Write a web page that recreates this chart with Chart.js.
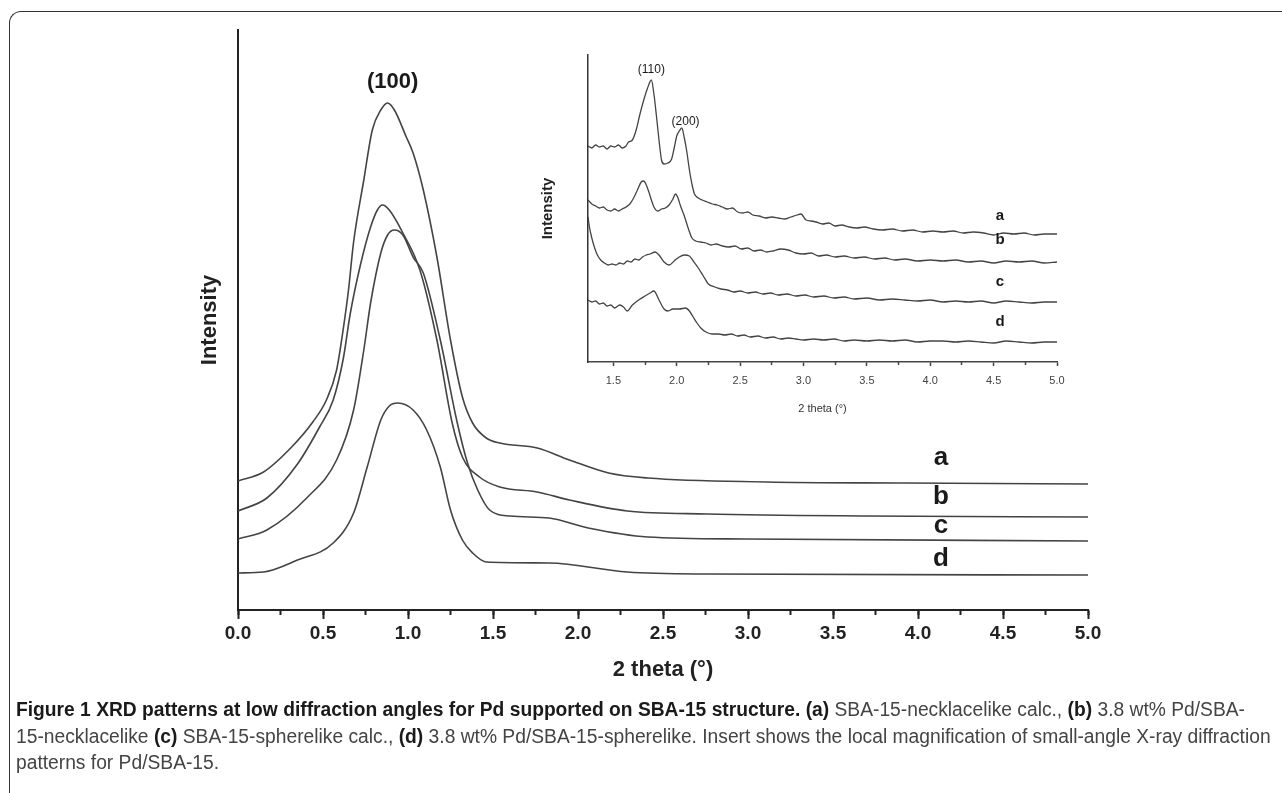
<!DOCTYPE html>
<html>
<head>
<meta charset="utf-8">
<script src="https://cdn.jsdelivr.net/npm/chart.js@4.4.1/dist/chart.umd.min.js"></script>
<style>
  body { margin: 0; background: #fff; width: 1282px; height: 793px; overflow: hidden; position: relative; }
  .frame { position: absolute; left: 9px; top: 11px; width: 1320px; height: 820px;
           border-left: 1.5px solid #333; border-top: 1.5px solid #333; border-top-left-radius: 12px; }
  canvas { position: absolute; left: 0; top: 0; }
  .cap { position: absolute; left: 16px; top: 696px; font-family: "Liberation Sans", Arial, sans-serif;
         font-size: 20px; line-height: 26.5px; color: #444; white-space: nowrap; }
  .cap > div { width: max-content; transform-origin: 0 0; }
  .cap b { color: #1a1a1a; }
</style>
</head>
<body>
<div class="frame"></div>
<canvas id="main" width="1282" height="700"></canvas>
<canvas id="inset" width="1282" height="700"></canvas>
<div class="cap">
  <div><b>Figure 1 XRD patterns at low diffraction angles for Pd supported on SBA-15 structure.</b> <b>(a)</b> SBA-15-necklacelike calc., <b>(b)</b> 3.8 wt% Pd/SBA-</div>
  <div>15-necklacelike <b>(c)</b> SBA-15-spherelike calc., <b>(d)</b> 3.8 wt% Pd/SBA-15-spherelike. Insert shows the local magnification of small-angle X-ray diffraction</div>
  <div>patterns for Pd/SBA-15.</div>
</div>
<script>
// low angle patterns, 2 theta 0 - 5
const aX = [0, 0.15, 0.31, 0.44, 0.52, 0.58, 0.62, 0.65, 0.68, 0.74, 0.79, 0.84, 0.88, 0.92, 0.99, 1.03, 1.09, 1.17, 1.25, 1.32, 1.38, 1.46, 1.54, 1.76, 1.95, 2.18, 2.41, 3.11, 3.92, 5.0]
const aY = [129, 138, 162, 188, 210, 240, 282, 320, 368, 430, 480, 500, 507, 500, 473, 457, 420, 353, 270, 213, 187, 172, 167, 162, 150, 137, 132, 128, 127, 126]
const bX = [0, 0.17, 0.35, 0.48, 0.56, 0.62, 0.66, 0.72, 0.78, 0.82, 0.85, 0.89, 0.97, 1.07, 1.17, 1.26, 1.32, 1.42, 1.54, 1.76, 1.95, 2.29, 2.76, 3.69, 5.0]
const bY = [99, 112, 146, 183, 210, 252, 296, 345, 383, 400, 405, 400, 377, 340, 270, 187, 153, 133, 123, 118, 110, 99, 96, 94, 93]
const cX = [0, 0.17, 0.41, 0.58, 0.68, 0.74, 0.78, 0.84, 0.88, 0.92, 0.97, 1.03, 1.09, 1.19, 1.29, 1.35, 1.41, 1.48, 1.60, 1.83, 2.06, 2.41, 2.99, 5.0]
const cY = [71, 80, 113, 150, 200, 260, 307, 357, 375, 380, 375, 353, 337, 270, 187, 147, 120, 100, 94, 92, 82, 73, 71, 69]
const dX = [0, 0.15, 0.35, 0.56, 0.68, 0.76, 0.84, 0.89, 0.94, 1.03, 1.11, 1.19, 1.25, 1.32, 1.38, 1.46, 1.83, 2.29, 2.76, 5.0]
const dY = [37, 38, 50, 67, 97, 143, 190, 204, 207, 200, 180, 143, 100, 70, 57, 48, 47, 38, 36, 35]

// insert: (110) and (200) region, 2 theta 1.3 - 5
const iaX = [1.30, 1.33, 1.36, 1.39, 1.42, 1.45, 1.48, 1.51, 1.54, 1.57, 1.60, 1.62, 1.65, 1.68, 1.71, 1.74, 1.77, 1.80, 1.82, 1.84, 1.86, 1.88, 1.90, 1.93, 1.96, 1.98, 2.00, 2.02, 2.04, 2.06, 2.08, 2.10, 2.12, 2.14, 2.17, 2.20, 2.24, 2.28, 2.32, 2.36, 2.40, 2.44, 2.48, 2.52, 2.56, 2.60, 2.65, 2.70, 2.75, 2.80, 2.85, 2.90, 2.95, 2.98, 3.02, 3.06, 3.10, 3.15, 3.20, 3.25, 3.30, 3.36, 3.42, 3.48, 3.55, 3.62, 3.70, 3.78, 3.86, 3.94, 4.02, 4.10, 4.18, 4.26, 4.34, 4.42, 4.50, 4.58, 4.66, 4.74, 4.82, 4.90, 5.00]
const iaY = [216, 214, 217, 215, 216, 213, 216, 215, 217, 214, 216, 220, 222, 232, 248, 262, 274, 282, 268, 246, 222, 202, 198, 199, 203, 214, 226, 231, 234, 224, 210, 192, 178, 168, 164, 162, 160, 158, 157, 155, 153, 154, 150, 149, 150, 147, 146, 144, 145, 144, 143, 145, 147, 148, 142, 141, 140, 138, 139, 136, 137, 135, 134, 135, 133, 132, 133, 131, 132, 130, 131, 130, 131, 129, 130, 129, 127, 129, 128, 129, 127, 128, 128]
const ibX = [1.30, 1.33, 1.36, 1.39, 1.42, 1.45, 1.48, 1.51, 1.54, 1.57, 1.60, 1.63, 1.66, 1.69, 1.72, 1.74, 1.76, 1.78, 1.80, 1.82, 1.85, 1.88, 1.91, 1.94, 1.97, 1.99, 2.01, 2.03, 2.06, 2.09, 2.12, 2.15, 2.19, 2.23, 2.27, 2.31, 2.36, 2.41, 2.46, 2.51, 2.56, 2.61, 2.66, 2.71, 2.76, 2.82, 2.88, 2.94, 3.00, 3.06, 3.12, 3.18, 3.25, 3.32, 3.40, 3.48, 3.56, 3.64, 3.72, 3.80, 3.90, 4.00, 4.10, 4.20, 4.30, 4.40, 4.50, 4.60, 4.70, 4.80, 4.90, 5.00]
const ibY = [162, 158, 156, 154, 155, 152, 151, 153, 151, 153, 155, 158, 164, 172, 180, 181, 177, 170, 162, 155, 151, 153, 154, 157, 163, 168, 164, 156, 146, 134, 124, 121, 120, 119, 117, 118, 116, 115, 116, 113, 114, 111, 112, 110, 111, 113, 112, 109, 108, 109, 106, 107, 105, 106, 104, 105, 103, 104, 102, 103, 101, 102, 101, 102, 100, 101, 99, 101, 100, 101, 99, 100]
const icX = [1.30, 1.31, 1.33, 1.35, 1.37, 1.40, 1.43, 1.46, 1.49, 1.52, 1.55, 1.58, 1.61, 1.64, 1.67, 1.70, 1.73, 1.76, 1.79, 1.83, 1.86, 1.90, 1.94, 1.98, 2.02, 2.06, 2.10, 2.13, 2.17, 2.21, 2.25, 2.30, 2.35, 2.40, 2.45, 2.50, 2.56, 2.62, 2.68, 2.74, 2.80, 2.87, 2.94, 3.01, 3.08, 3.16, 3.24, 3.32, 3.40, 3.50, 3.60, 3.70, 3.80, 3.90, 4.00, 4.10, 4.20, 4.30, 4.40, 4.50, 4.60, 4.70, 4.80, 4.90, 5.00]
const icY = [145, 136, 124, 115, 108, 102, 99, 97, 98, 97, 99, 98, 101, 100, 103, 102, 105, 107, 108, 110, 107, 100, 97, 101, 105, 107, 106, 101, 94, 86, 78, 75, 73, 72, 70, 71, 69, 70, 68, 69, 67, 68, 66, 67, 65, 66, 64, 65, 63, 64, 62, 63, 62, 61, 62, 60, 61, 60, 61, 59, 61, 60, 59, 60, 60]
const idX = [1.30, 1.33, 1.36, 1.39, 1.42, 1.45, 1.48, 1.51, 1.55, 1.58, 1.61, 1.65, 1.70, 1.75, 1.79, 1.82, 1.86, 1.90, 1.93, 1.97, 2.02, 2.07, 2.10, 2.13, 2.16, 2.19, 2.23, 2.28, 2.33, 2.38, 2.43, 2.48, 2.53, 2.58, 2.64, 2.70, 2.76, 2.82, 2.88, 2.94, 3.00, 3.08, 3.16, 3.24, 3.32, 3.40, 3.50, 3.60, 3.70, 3.80, 3.90, 4.00, 4.10, 4.20, 4.30, 4.40, 4.50, 4.60, 4.70, 4.80, 4.90, 5.00]
const idY = [62, 60, 61, 58, 59, 56, 57, 54, 57, 55, 51, 57, 62, 66, 69, 71, 62, 53, 51, 53, 53, 54, 51, 45, 39, 34, 30, 28, 28, 27, 28, 26, 27, 25, 26, 24, 25, 23, 24, 23, 22, 23, 22, 23, 21, 22, 21, 22, 21, 22, 20, 21, 21, 20, 21, 20, 19, 21, 20, 19, 20, 20]

const mainTicks = [0, 0.5, 1, 1.5, 2, 2.5, 3, 3.5, 4, 4.5, 5]
const insetTicks = [1.5, 2, 2.5, 3, 3.5, 4, 4.5, 5]

// width of the first caption line in px; the other lines use the same squeeze
const capWidth = 1229

const pts = (xs, ys) => xs.map((x, i) => ({ x: x, y: ys[i] }))
const FONT = '"Liberation Sans", Arial, sans-serif'

// text tags placed in data coordinates
const tags = {
  id: 'tags',
  afterDatasetsDraw(chart, args, opts) {
    const ctx = chart.ctx
    const x = chart.scales.x, y = chart.scales.y
    ctx.save()
    ctx.fillStyle = '#1a1a1a'
    ctx.textAlign = 'center'
    ctx.textBaseline = 'middle'
    opts.items.forEach(t => {
      ctx.font = t.font
      ctx.fillText(t.text, x.getPixelForValue(t.x), y.getPixelForValue(t.y))
    })
    ctx.restore()
  }
}

function line(xs, ys, color, w) {
  return { data: pts(xs, ys), borderColor: color, borderWidth: w, pointRadius: 0, fill: false,
           cubicInterpolationMode: 'monotone' }
}

new Chart(document.getElementById('main'), {
  type: 'line',
  data: {
    datasets: [
      line(aX, aY, '#444', 1.6),
      line(bX, bY, '#444', 1.6),
      line(cX, cY, '#444', 1.6),
      line(dX, dY, '#444', 1.6)
    ]
  },
  plugins: [tags],
  options: {
    responsive: false,
    animation: false,
    devicePixelRatio: 1,
    layout: { padding: { left: 197, right: 194, top: 30, bottom: 17 } },
    plugins: {
      legend: { display: false },
      tooltip: { enabled: false },
      tags: {
        items: [
          { text: '(100)', x: 0.91, y: 528, font: 'bold 22px ' + FONT },
          { text: 'a', x: 4.135, y: 152, font: 'bold 26px ' + FONT },
          { text: 'b', x: 4.135, y: 113, font: 'bold 26px ' + FONT },
          { text: 'c', x: 4.135, y: 84, font: 'bold 26px ' + FONT },
          { text: 'd', x: 4.135, y: 51, font: 'bold 26px ' + FONT }
        ]
      }
    },
    scales: {
      x: {
        type: 'linear', position: 'bottom', min: 0, max: 5,
        afterBuildTicks: s => { s.ticks = mainTicks.map(v => ({ value: v })) },
        afterFit: s => { s.height = 73 },
        ticks: { callback: v => v.toFixed(1), color: '#222', padding: 3, maxRotation: 0,
                 font: { family: FONT, size: 19, weight: 'bold' } },
        grid: { drawOnChartArea: false, tickLength: 9, tickWidth: 2, tickColor: '#222' },
        border: { color: '#222', width: 2 },
        title: { display: true, text: '2 theta (°)', color: '#222', padding: 0,
                 font: { family: FONT, size: 22, weight: 'bold', lineHeight: 1.2 } }
      },
      xMinor: {
        type: 'linear', position: { y: 0 }, min: 0, max: 5,
        ticks: { display: false, stepSize: 0.25 },
        grid: { drawOnChartArea: false, tickLength: 5, tickWidth: 2, tickColor: '#222' },
        border: { display: false }
      },
      y: {
        type: 'linear', position: 'left', min: 0, max: 580,
        afterFit: s => { s.width = 41 },
        ticks: { display: false },
        grid: { display: false },
        border: { color: '#222', width: 2 },
        title: { display: true, text: 'Intensity', color: '#222', padding: 0,
                 font: { family: FONT, size: 22, weight: 'bold', lineHeight: 1.2 } }
      }
    }
  }
})

new Chart(document.getElementById('inset'), {
  type: 'line',
  data: {
    datasets: [
      line(iaX, iaY, '#444', 1.3),
      line(ibX, ibY, '#444', 1.3),
      line(icX, icY, '#444', 1.3),
      line(idX, idY, '#444', 1.3)
    ]
  },
  plugins: [tags],
  options: {
    responsive: false,
    animation: false,
    devicePixelRatio: 1,
    layout: { padding: { left: 539, right: 225, top: 55, bottom: 284 } },
    plugins: {
      legend: { display: false },
      tooltip: { enabled: false },
      tags: {
        items: [
          { text: '(110)', x: 1.80, y: 292, font: '12px ' + FONT },
          { text: '(200)', x: 2.07, y: 240, font: '12px ' + FONT },
          { text: 'a', x: 4.55, y: 146, font: 'bold 15px ' + FONT },
          { text: 'b', x: 4.55, y: 122, font: 'bold 15px ' + FONT },
          { text: 'c', x: 4.55, y: 80, font: 'bold 15px ' + FONT },
          { text: 'd', x: 4.55, y: 40, font: 'bold 15px ' + FONT }
        ]
      }
    },
    scales: {
      x: {
        type: 'linear', position: 'bottom', min: 1.3, max: 5,
        afterBuildTicks: s => { s.ticks = insetTicks.map(v => ({ value: v })) },
        afterFit: s => { s.height = 54 },
        ticks: { callback: v => v.toFixed(1), color: '#444', padding: 8, maxRotation: 0,
                 font: { family: FONT, size: 11 } },
        grid: { drawOnChartArea: false, tickLength: 4, tickWidth: 1.5, tickColor: '#444' },
        border: { color: '#444', width: 1.5 },
        title: { display: true, text: '2 theta (°)', color: '#333', padding: 0,
                 font: { family: FONT, size: 11, lineHeight: 1.2 } }
      },
      xMinor: {
        type: 'linear', position: { y: 0 }, min: 1.3, max: 5,
        afterBuildTicks: s => { s.ticks = [1.75, 2.25, 2.75, 3.25, 3.75, 4.25, 4.75].map(v => ({ value: v })) },
        ticks: { display: false },
        grid: { drawOnChartArea: false, tickLength: 3, tickWidth: 1.5, tickColor: '#444' },
        border: { display: false }
      },
      y: {
        type: 'linear', position: 'left', min: 0, max: 307,
        afterFit: s => { s.width = 49 },
        ticks: { display: false },
        grid: { display: false },
        border: { color: '#333', width: 1.5 },
        title: { display: true, text: 'Intensity', color: '#222', padding: 0,
                 font: { family: FONT, size: 15, weight: 'bold', lineHeight: 1.2 } }
      }
    }
  }
})

// squeeze the caption into a narrow face, same factor on every line
const capLines = document.querySelectorAll('.cap > div')
const squeeze = capWidth / capLines[0].getBoundingClientRect().width
capLines.forEach(el => { el.style.transform = 'scaleX(' + squeeze.toFixed(4) + ')' })
</script>
</body>
</html>
